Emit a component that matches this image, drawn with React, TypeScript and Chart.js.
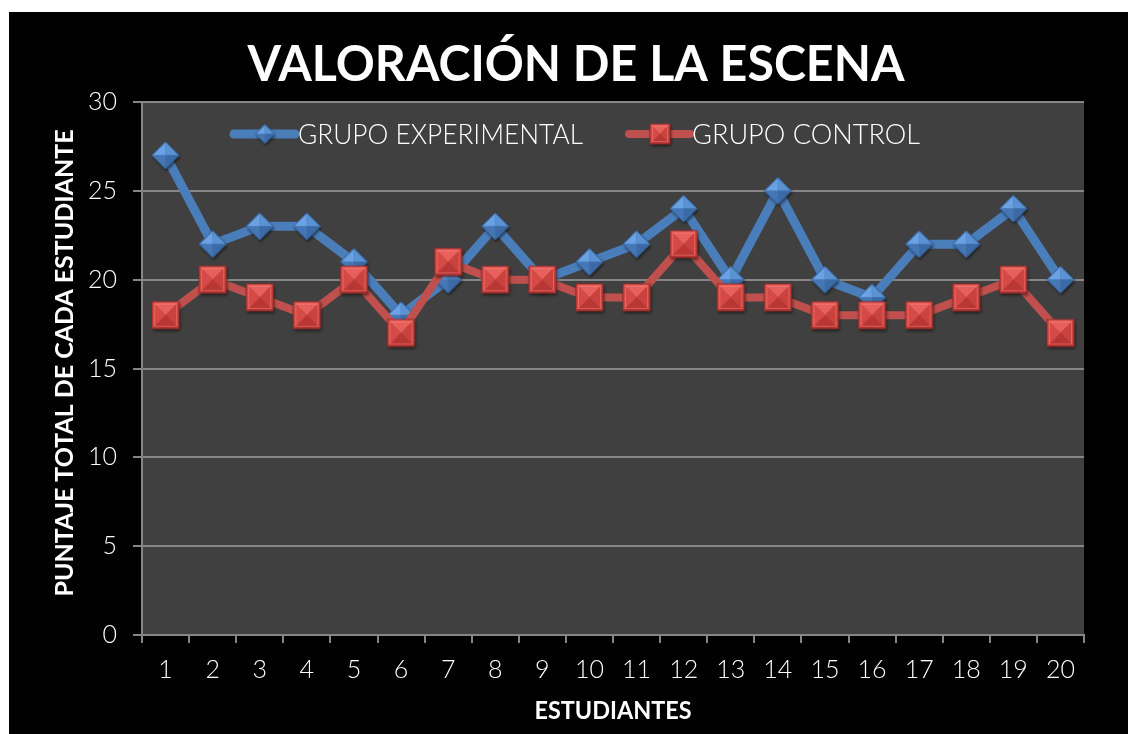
import React, { useEffect, useRef } from "react";
import { Chart, registerables } from "chart.js";

Chart.register(...registerables);

const categories = ["1", "2", "3", "4", "5", "6", "7", "8", "9", "10", "11", "12", "13", "14", "15", "16", "17", "18", "19", "20"];
const grupoExperimental = [27, 22, 23, 23, 21, 18, 20, 23, 20, 21, 22, 24, 20, 25, 20, 19, 22, 22, 24, 20];
const grupoControl = [18, 20, 19, 18, 20, 17, 21, 20, 20, 19, 19, 22, 19, 19, 18, 18, 18, 19, 20, 17];
const yTicks = [0, 5, 10, 15, 20, 25, 30];
const seriesLabels = ["GRUPO EXPERIMENTAL", "GRUPO CONTROL"];
const chartTitle = "VALORACIÓN DE LA ESCENA";
const xTitle = "ESTUDIANTES";
const yTitle = "PUNTAJE TOTAL DE CADA ESTUDIANTE";

const BLUE = "#4a7ebb";
const RED = "#c0504d";
const GRID = "#868686";
const FONT = "Lato, 'DejaVu Sans', sans-serif";

function poly(g: CanvasRenderingContext2D, pts: number[][]) {
  g.beginPath();
  pts.forEach((p, i) => (i ? g.lineTo(p[0], p[1]) : g.moveTo(p[0], p[1])));
  g.closePath();
}

function makeDiamond(size: number): HTMLCanvasElement {
  const pad = 5;
  const W = Math.ceil(size + pad * 2);
  const c = document.createElement("canvas");
  c.width = W;
  c.height = W;
  const g = c.getContext("2d")!;
  const cx = W / 2, cy = W / 2, r = size / 2;
  const T = [cx, cy - r], R = [cx + r, cy], B = [cx, cy + r], L = [cx - r, cy];
  const C = [cx, cy];
  g.save();
  g.shadowColor = "rgba(0,0,0,0.6)";
  g.shadowBlur = 3;
  g.shadowOffsetX = 1;
  g.shadowOffsetY = 2;
  poly(g, [T, R, B, L]);
  g.fillStyle = "#3a68a2";
  g.fill();
  g.restore();
  const facets: [number[][], string][] = [
    [[L, T, C], "#6aa2e4"],
    [[T, R, C], "#5a92d4"],
    [[R, B, C], "#3b6aa6"],
    [[B, L, C], "#4577b6"],
  ];
  facets.forEach(([p, col]) => {
    poly(g, p);
    g.fillStyle = col;
    g.fill();
  });
  poly(g, [T, R, B, L]);
  g.strokeStyle = "#33609a";
  g.lineWidth = 1;
  g.stroke();
  return c;
}

function makeSquare(size: number): HTMLCanvasElement {
  const pad = 5;
  const W = Math.ceil(size + pad * 2);
  const c = document.createElement("canvas");
  c.width = W;
  c.height = W;
  const g = c.getContext("2d")!;
  const h = size / 2;
  const cx = W / 2, cy = W / 2;
  const TL = [cx - h, cy - h], TR = [cx + h, cy - h], BR = [cx + h, cy + h], BL = [cx - h, cy + h];
  const C = [cx, cy];
  g.save();
  g.shadowColor = "rgba(0,0,0,0.6)";
  g.shadowBlur = 3;
  g.shadowOffsetX = 1;
  g.shadowOffsetY = 2;
  poly(g, [TL, TR, BR, BL]);
  g.fillStyle = "#a8322f";
  g.fill();
  g.restore();
  const facets: [number[][], string][] = [
    [[TL, TR, C], "#e8605c"],
    [[TR, BR, C], "#c9423e"],
    [[BR, BL, C], "#b83634"],
    [[BL, TL, C], "#d54a46"],
  ];
  facets.forEach(([p, col]) => {
    poly(g, p);
    g.fillStyle = col;
    g.fill();
  });
  g.strokeStyle = "rgba(255,140,130,0.45)";
  g.lineWidth = 1;
  g.strokeRect(cx - h + 2.5, cy - h + 2.5, size - 5, size - 5);
  poly(g, [TL, TR, BR, BL]);
  g.strokeStyle = "#8e2a28";
  g.lineWidth = 1;
  g.stroke();
  return c;
}

function fitText(
  ctx: CanvasRenderingContext2D,
  text: string,
  x: number,
  y: number,
  width: number,
  align: "left" | "center"
) {
  ctx.textAlign = "left";
  ctx.textBaseline = "alphabetic";
  const w = ctx.measureText(text).width;
  const sx = width / w;
  ctx.save();
  ctx.translate(x, y);
  ctx.scale(sx, 1);
  ctx.fillText(text, align === "center" ? -w / 2 : 0, 0);
  ctx.restore();
}

export default function App() {
  const ref = useRef<HTMLCanvasElement>(null);

  useEffect(() => {
    const diamond = makeDiamond(27);
    const square = makeSquare(27);
    const diamondSmall = makeDiamond(19);
    const squareSmall = makeSquare(20);

    const decor = {
      id: "decor",
      beforeDraw(chart: any) {
        const { ctx, chartArea: a, width, height } = chart;
        ctx.save();
        ctx.fillStyle = "#000000";
        ctx.fillRect(0, 0, width, height);
        ctx.fillStyle = "#404040";
        ctx.fillRect(a.left, a.top, a.right - a.left, a.bottom - a.top);
        ctx.restore();
      },
      afterDraw(chart: any) {
        const ctx: CanvasRenderingContext2D = chart.ctx;
        ctx.save();
        ctx.fillStyle = "#ffffff";
        // title
        ctx.font = `bold 50px ${FONT}`;
        fitText(ctx, chartTitle, 567, 69, 657, "center");
        // x title
        ctx.font = `bold 24px ${FONT}`;
        fitText(ctx, xTitle, 604, 707, 157, "center");
        // y title
        ctx.save();
        ctx.translate(64, 351);
        ctx.rotate(-Math.PI / 2);
        ctx.font = `bold 25px ${FONT}`;
        fitText(ctx, yTitle, 0, 0, 467, "center");
        ctx.restore();
        // legend
        const items = [
          { x0: 225, x1: 286, mx: 256, color: BLUE, lw: 9, img: diamondSmall, tx: 289, tw: 285, label: seriesLabels[0] },
          { x0: 620, x1: 681, mx: 651, color: RED, lw: 8, img: squareSmall, tx: 683, tw: 228, label: seriesLabels[1] },
        ];
        const ly = 122;
        items.forEach((it) => {
          ctx.beginPath();
          ctx.moveTo(it.x0, ly);
          ctx.lineTo(it.x1, ly);
          ctx.strokeStyle = it.color;
          ctx.lineWidth = it.lw;
          ctx.lineCap = "round";
          ctx.stroke();
          ctx.drawImage(it.img, it.mx - it.img.width / 2, ly - it.img.height / 2);
          ctx.fillStyle = "#ffffff";
          ctx.font = `300 27px ${FONT}`;
          fitText(ctx, it.label, it.tx, 131.5, it.tw, "left");
        });
        ctx.restore();
      },
    };

    const chart = new Chart(ref.current!, {
      type: "line",
      data: {
        labels: categories,
        datasets: [
          {
            label: seriesLabels[0],
            data: grupoExperimental,
            borderColor: BLUE,
            backgroundColor: BLUE,
            borderWidth: 9,
            borderJoinStyle: "round",
            borderCapStyle: "round",
            tension: 0,
            pointStyle: diamond as any,
            pointRadius: 13,
            order: 2,
          },
          {
            label: seriesLabels[1],
            data: grupoControl,
            borderColor: RED,
            backgroundColor: RED,
            borderWidth: 8,
            borderJoinStyle: "round",
            borderCapStyle: "round",
            tension: 0,
            pointStyle: square as any,
            pointRadius: 13,
            order: 1,
          },
        ],
      },
      options: {
        animation: false,
        responsive: false,
        layout: { padding: { top: 90, right: 44, left: 0, bottom: 0 } },
        plugins: {
          legend: { display: false },
          title: { display: false },
          tooltip: { enabled: false },
        },
        scales: {
          x: {
            type: "category",
            offset: true,
            grid: {
              offset: true,
              drawOnChartArea: false,
              color: GRID,
              lineWidth: 2,
              tickLength: 8,
            },
            border: { color: GRID, width: 2 },
            ticks: {
              color: "#ffffff",
              font: { family: FONT, size: 25, weight: 300 },
              padding: 12,
              maxRotation: 0,
              autoSkip: false,
            },
            afterFit: (s: any) => {
              s.height = 99;
            },
          },
          y: {
            min: 0,
            max: 30,
            afterBuildTicks: (s: any) => {
              s.ticks = yTicks.map((v) => ({ value: v }));
            },
            grid: { color: GRID, lineWidth: 2, tickLength: 9 },
            border: { color: GRID, width: 2 },
            ticks: {
              color: "#ffffff",
              font: { family: FONT, size: 25, weight: 300 },
              padding: 16,
            },
            afterFit: (s: any) => {
              s.width = 133;
            },
          },
        },
      },
      plugins: [decor],
    } as any);

    return () => chart.destroy();
  }, []);

  return (
    <div style={{ position: "absolute", left: 9, top: 12, width: 1119, height: 722 }}>
      <canvas ref={ref} width={1119} height={722} style={{ display: "block" }} />
    </div>
  );
}
